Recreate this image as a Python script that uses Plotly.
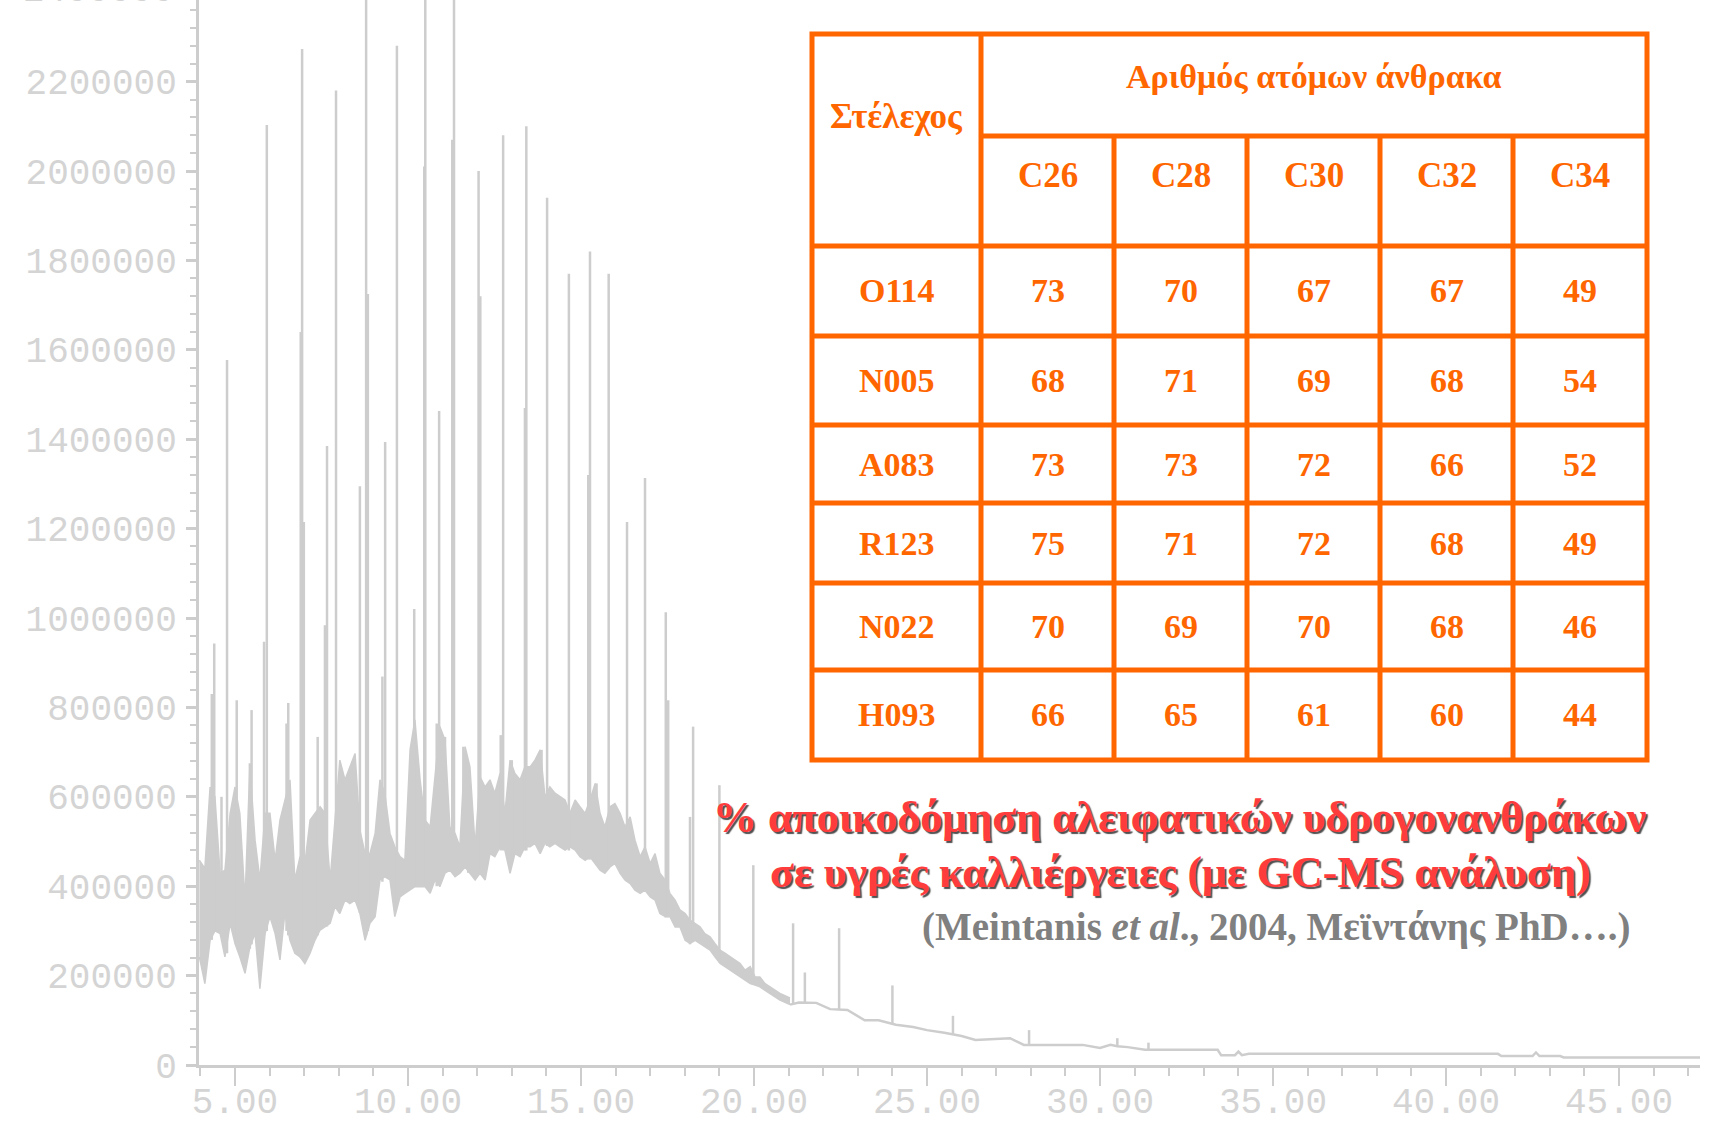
import plotly.graph_objects as go

# --- GC-MS chromatogram (retention time in min, abundance in counts) ---
# unresolved hump: lower / upper edge of the dense noise band
band_rt = [3.97, 4.13, 4.28, 4.42, 4.57, 4.71, 4.86, 5.00, 5.14, 5.29, 5.43, 5.58, 5.72, 5.87,
           6.01, 6.16, 6.30, 6.44, 6.59, 6.73, 6.88, 7.02, 7.17, 7.31, 7.46, 7.60, 7.75, 7.89,
           8.03, 8.18, 8.32, 8.47, 8.61, 8.76, 8.90, 9.05, 9.19, 9.33, 9.48, 9.62, 9.77, 9.91,
           10.06, 10.20, 10.35, 10.49, 10.64, 10.78, 10.92, 11.07, 11.21, 11.36, 11.50, 11.65,
           11.79, 11.94, 12.08, 12.23, 12.37, 12.51, 12.66, 12.80, 12.95, 13.09, 13.24, 13.38,
           13.53, 13.67, 13.82, 13.96, 14.10, 14.25, 14.39, 14.54, 14.68, 14.83, 14.97, 15.12,
           15.26, 15.41, 15.55, 15.69, 15.84, 15.98, 16.13, 16.27, 16.42, 16.56, 16.71, 16.85,
           17.00, 17.14, 17.28, 17.43, 17.57, 17.72, 17.86, 18.01, 18.15, 18.30, 18.44, 18.58,
           18.73, 18.87, 19.02, 19.16, 19.31, 19.45, 19.60, 19.74, 19.89, 20.03, 20.17, 20.32,
           20.46, 20.61, 20.75, 21.04]
band_hi = [458000, 440000, 622000, 600000, 428000, 436000, 563000, 622000, 563000, 369000,
           667000, 503000, 414000, 563000, 563000, 458000, 548000, 593000, 638000, 414000,
           466000, 451000, 548000, 563000, 578000, 563000, 414000, 548000, 682000, 638000,
           667000, 697000, 526000, 473000, 473000, 518000, 638000, 608000, 518000, 488000,
           466000, 458000, 705000, 772000, 638000, 548000, 533000, 638000, 757000, 727000,
           533000, 518000, 488000, 712000, 667000, 488000, 645000, 622000, 638000, 608000,
           652000, 563000, 682000, 652000, 638000, 667000, 667000, 682000, 705000, 600000,
           622000, 608000, 600000, 593000, 563000, 593000, 578000, 563000, 593000, 630000,
           563000, 533000, 578000, 585000, 563000, 533000, 555000, 503000, 466000, 488000,
           451000, 473000, 429000, 414000, 384000, 369000, 347000, 339000, 324000, 317000,
           309000, 294000, 287000, 272000, 257000, 250000, 242000, 235000, 227000, 212000,
           220000, 197000, 197000, 182000, 175000, 168000, 160000, 150000]
band_lo = [242000, 182000, 279000, 300000, 294000, 242000, 317000, 272000, 242000, 205000,
           264000, 294000, 171000, 294000, 332000, 294000, 235000, 339000, 279000, 250000,
           242000, 227000, 250000, 279000, 302000, 309000, 317000, 354000, 339000, 369000,
           361000, 369000, 339000, 279000, 317000, 332000, 414000, 421000, 414000, 332000,
           376000, 384000, 391000, 399000, 399000, 399000, 384000, 414000, 399000, 429000,
           436000, 421000, 429000, 443000, 429000, 414000, 429000, 414000, 473000, 466000,
           488000, 481000, 429000, 473000, 466000, 488000, 488000, 496000, 473000, 496000,
           488000, 496000, 488000, 481000, 488000, 481000, 466000, 458000, 466000, 451000,
           436000, 429000, 443000, 451000, 429000, 414000, 406000, 391000, 384000, 391000,
           376000, 369000, 339000, 332000, 332000, 309000, 309000, 279000, 272000, 279000,
           272000, 264000, 257000, 242000, 227000, 220000, 212000, 205000, 197000, 190000,
           182000, 179000, 175000, 167000, 160000, 152000, 145000, 135000]

# late baseline after the hump
tail_rt = [21.04, 21.3, 21.8, 22.2, 22.7, 23.2, 23.6, 24.1, 24.6, 25.0, 25.5, 26.0, 26.4, 27.0,
           27.4, 27.8, 28.5, 29.5, 30.0, 30.3, 30.5, 30.8, 31.3, 32.5, 33.4, 33.5, 33.9, 34.0,
           34.1, 34.3, 41.5, 41.6, 42.5, 42.6, 42.7, 43.3, 43.4, 47.4]
tail_val = [135000, 140000, 139000, 125000, 123000, 100000, 100000, 90000, 85000, 78000,
            72000, 65000, 56000, 58000, 60000, 45000, 45000, 45000, 38000, 45000, 42000,
            40000, 34000, 34000, 34000, 22000, 22000, 30000, 22000, 25000, 25000, 20000,
            20000, 28000, 20000, 20000, 17000, 17000]

# resolved peaks (n-alkanes and others)
peak_rt = [4.33, 4.40, 4.61, 4.77, 5.05, 5.43, 5.48, 5.84, 5.92, 6.49, 6.54, 6.90, 6.94, 6.99,
           7.39, 7.60, 7.66, 7.92, 8.61, 8.79, 8.84, 9.26, 9.34, 9.68, 10.18, 10.47, 10.50,
           10.83, 10.90, 11.07, 11.28, 11.33, 11.60, 11.74, 12.04, 12.09, 12.68, 12.75, 13.00,
           13.38, 13.42, 13.86, 14.02, 14.65, 15.21, 15.26, 15.45, 15.80, 16.33, 16.85, 17.45,
           17.52, 18.15, 18.24, 19.00, 19.98, 21.13, 21.47, 22.46, 24.00, 25.75, 27.95, 30.50,
           31.40]
peak_top = [830000, 943000, 600000, 1577000, 816000, 675000, 794000, 947000, 2103000, 764000,
            810000, 1640000, 2273000, 1215000, 734000, 984000, 1385000, 2180000, 1295000,
            2600000, 1725000, 869000, 1394000, 2280000, 1020000, 2010000, 2600000, 764000,
            1463000, 734000, 2070000, 2600000, 712000, 675000, 2000000, 1720000, 738000,
            2080000, 682000, 1470000, 2100000, 705000, 1940000, 1770000, 1320000, 1820000,
            630000, 1770000, 1215000, 1313000, 1013000, 816000, 555000, 757000, 626000,
            447000, 317000, 207000, 306000, 178000, 110000, 78000, 60000, 50000]
peak_base = [280000, 300000, 290000, 250000, 270000, 260000, 270000, 290000, 300000, 300000,
             290000, 240000, 240000, 240000, 290000, 310000, 310000, 350000, 340000, 290000,
             300000, 410000, 420000, 360000, 400000, 400000, 400000, 400000, 410000, 430000,
             430000, 430000, 440000, 430000, 440000, 440000, 480000, 480000, 450000, 480000,
             480000, 490000, 490000, 480000, 460000, 460000, 450000, 440000, 410000, 390000,
             330000, 330000, 270000, 280000, 230000, 180000, 135000, 140000, 125000, 90000,
             68000, 45000, 42000, 34000]

# --- table: % degradation of aliphatic hydrocarbons ---
strains = ["O114", "N005", "A083", "R123", "N022", "H093"]
carbons = ["C26", "C28", "C30", "C32", "C34"]
degradation = [
    [73, 70, 67, 67, 49],
    [68, 71, 69, 68, 54],
    [73, 73, 72, 66, 52],
    [75, 71, 72, 68, 49],
    [70, 69, 70, 68, 46],
    [66, 65, 61, 60, 44],
]

GREY = "#cdcdcd"
ORANGE = "#ff6600"

fig = go.Figure()

fig.add_trace(go.Scatter(x=band_rt, y=band_lo, mode="lines",
                         line=dict(color=GREY, width=1.5), hoverinfo="skip"))
fig.add_trace(go.Scatter(x=band_rt, y=band_hi, mode="lines", fill="tonexty",
                         fillcolor=GREY, line=dict(color=GREY, width=1.5), hoverinfo="skip"))
fig.add_trace(go.Scatter(x=tail_rt, y=tail_val, mode="lines",
                         line=dict(color=GREY, width=2.5), hoverinfo="skip"))

# peaks as vertical strokes
px_, py_ = [], []
for t, top, base in zip(peak_rt, peak_top, peak_base):
    px_ += [t, t, None]
    py_ += [base, top, None]
fig.add_trace(go.Scatter(x=px_, y=py_, mode="lines",
                         line=dict(color=GREY, width=2.5), hoverinfo="skip"))

# --- layout geometry (pixels) ---
W, H = 1710, 1125
ML, MR, MT, MB = 199, 10, 0, 60
PW, PH = W - ML - MR, H - MT - MB


def fx(x):
    return (x - ML) / PW


def fy(y):
    return (H - MB - y) / PH


col_x = [812, 981, 1114, 1247, 1380, 1513, 1647]
row_y = [34, 136, 246, 336, 425, 503, 583, 670, 760]

shapes = [dict(type="rect", xref="paper", yref="paper",
               x0=fx(col_x[0]), x1=fx(col_x[-1]), y0=fy(row_y[-1]), y1=fy(row_y[0]),
               fillcolor="white", line=dict(color=ORANGE, width=5))]
shapes.append(dict(type="line", xref="paper", yref="paper",
                   x0=fx(col_x[1]), x1=fx(col_x[-1]), y0=fy(row_y[1]), y1=fy(row_y[1]),
                   line=dict(color=ORANGE, width=5)))
for y in row_y[2:-1]:
    shapes.append(dict(type="line", xref="paper", yref="paper",
                       x0=fx(col_x[0]), x1=fx(col_x[-1]), y0=fy(y), y1=fy(y),
                       line=dict(color=ORANGE, width=5)))
shapes.append(dict(type="line", xref="paper", yref="paper",
                   x0=fx(col_x[1]), x1=fx(col_x[1]), y0=fy(row_y[-1]), y1=fy(row_y[0]),
                   line=dict(color=ORANGE, width=5)))
for x in col_x[2:-1]:
    shapes.append(dict(type="line", xref="paper", yref="paper",
                       x0=fx(x), x1=fx(x), y0=fy(row_y[-1]), y1=fy(row_y[1]),
                       line=dict(color=ORANGE, width=5)))

serif = "Liberation Serif, Times New Roman, serif"
tfont = dict(family=serif, color=ORANGE, size=34, weight="bold")
ann = []


def cell(text, x, y, size=34):
    ann.append(dict(text=text, xref="paper", yref="paper", x=fx(x), y=fy(y),
                    showarrow=False, xanchor="center", yanchor="middle",
                    font=dict(tfont, size=size)))


cell("Στέλεχος", (col_x[0] + col_x[1]) / 2, 116, 35)
cell("Αριθμός ατόμων άνθρακα", (col_x[1] + col_x[-1]) / 2, 76, 34)
for j, c in enumerate(carbons):
    cell(c, (col_x[j + 1] + col_x[j + 2]) / 2, 176, 35)
for i, s in enumerate(strains):
    yc = (row_y[i + 2] + row_y[i + 3]) / 2
    cell(s, (col_x[0] + col_x[1]) / 2, yc)
    for j, v in enumerate(degradation[i]):
        cell(str(v), (col_x[j + 1] + col_x[j + 2]) / 2, yc)

red_font = dict(family=serif, size=44, color="#ff3c3c", weight="bold",
                shadow="2px 2px 1px #505050")
ann.append(dict(text="% αποικοδόμηση αλειφατικών υδρογονανθράκων", xref="paper", yref="paper",
                x=fx(1180), y=fy(818), showarrow=False, xanchor="center", yanchor="middle",
                font=red_font))
ann.append(dict(text="σε υγρές καλλιέργειες (με GC-MS ανάλυση)", xref="paper", yref="paper",
                x=fx(1180), y=fy(872), showarrow=False, xanchor="center", yanchor="middle",
                font=red_font))
ann.append(dict(text="(Meintanis <i>et al</i>., 2004, Μεϊντάνης PhD….)", xref="paper", yref="paper",
                x=fx(1276), y=fy(927), showarrow=False, xanchor="center", yanchor="middle",
                font=dict(family=serif, size=39, color="#808080", weight="bold")))

tick_font = dict(family="Liberation Mono, DejaVu Sans Mono, monospace", size=36, color="#d4d4d4")

# top tick label, mostly cut off by the upper edge of the page
ann.append(dict(text="2400000", xref="paper", yref="paper", x=fx(176), y=fy(-8),
                showarrow=False, xanchor="right", yanchor="middle", font=tick_font))

fig.update_layout(
    width=W, height=H,
    margin=dict(l=ML, r=MR, t=MT, b=MB),
    paper_bgcolor="white", plot_bgcolor="white",
    showlegend=False,
    shapes=shapes, annotations=ann,
    xaxis=dict(range=[3.96, 47.34], tick0=0, dtick=5, tickformat=".2f", automargin=False,
               showgrid=False, zeroline=False, showline=True, linecolor=GREY, linewidth=3,
               ticks="outside", ticklen=18, tickwidth=2, tickcolor=GREY,
               minor=dict(ticks="outside", ticklen=8, dtick=1, tickwidth=2, tickcolor=GREY),
               tickfont=tick_font, ticklabelstandoff=-16),
    yaxis=dict(range=[0, 2382600], dtick=200000, tickformat="d", automargin=False,
               showgrid=False, zeroline=False, showline=True, linecolor=GREY, linewidth=3,
               ticks="outside", ticklen=10, tickwidth=3, tickcolor=GREY,
               minor=dict(ticks="outside", ticklen=6, dtick=40000, tickwidth=2, tickcolor=GREY),
               tickfont=tick_font, ticklabelstandoff=2),
)

# the page's default body margin would shift the chart by 8 px
fig.write_html("out.html", config={"displayModeBar": False},
               post_script="document.body.style.margin = '0';")
